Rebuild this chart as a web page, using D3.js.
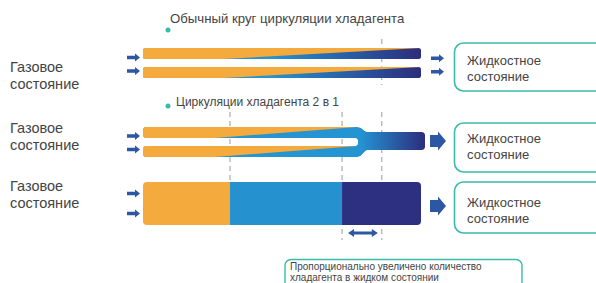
<!DOCTYPE html>
<html>
<head>
<meta charset="utf-8">
<script src="https://cdn.jsdelivr.net/npm/d3@7"></script>
<style>
  body { margin: 0; background: #fff; }
  svg text { font-family: "Liberation Sans", Arial, sans-serif; fill: #444; }
</style>
</head>
<body>
<div id="chart"></div>
<script>
// values
var sectionTitles = ["Обычный круг циркуляции хладагента", "Циркуляции хладагента 2 в 1"];
var gasLabel = ["Газовое", "состояние"];
var liquidLabel = ["Жидкостное", "состояние"];
var noteLines = ["Пропорционально увеличено количество", "хладагента в жидком состоянии"];
// fraction of tube length where liquid starts / fills the tube
var wedgeStart = [0.288, 0.259];
var wedgeEnd = [1.0, 0.77];
// solid bar: gas / mixed / liquid
var barStops = [0, 0.313, 0.716, 1.0];
var barColors = ["#f5aa3e", "#2592cf", "#2d2f80"];
var dashStops = [0.313, 0.716, 0.859];

var width = 596, height = 283;
var svg = d3.select("#chart").append("svg").attr("width", width).attr("height", height);
var x = d3.scaleLinear().domain([0, 1]).range([143, 421]);

var orange = "#f5aa3e", teal = "#38bba9", arrowBlue = "#2d56a3";

var defs = svg.append("defs");
function grad(id, x1, x2) {
    var g = defs.append("linearGradient").attr("id", id)
        .attr("gradientUnits", "userSpaceOnUse")
        .attr("x1", x1).attr("x2", x2).attr("y1", 0).attr("y2", 0);
    g.append("stop").attr("offset", 0).attr("stop-color", "#2594d3");
    g.append("stop").attr("offset", 1).attr("stop-color", "#2c2d7c");
}
grad("g1", x(0.45), x(1));
grad("g2", x(0.78), 425);

// dashed guide lines
var dashes = [
    [dashStops[2], 39, 85], [dashStops[0], 112, 181],
    [dashStops[1], 112, 240], [dashStops[2], 112, 240]
];
svg.append("g").selectAll("line").data(dashes).enter().append("line")
    .attr("x1", function(d){ return x(d[0]); }).attr("x2", function(d){ return x(d[0]); })
    .attr("y1", function(d){ return d[1]; }).attr("y2", function(d){ return d[2]; })
    .attr("stroke", "#9a9a9a").attr("stroke-width", 1).attr("stroke-dasharray", "5,4");

// titles with teal dots
var titleY = [23, 106], dotY = [30, 106];
svg.append("g").selectAll("circle").data(sectionTitles).enter().append("circle")
    .attr("cx", 168).attr("cy", function(d, i){ return dotY[i]; }).attr("r", 2.5).attr("fill", teal);
svg.append("g").selectAll("text").data(sectionTitles).enter().append("text")
    .attr("x", function(d, i){ return i == 0 ? 170 : 176; })
    .attr("y", function(d, i){ return titleY[i]; })
    .attr("font-size", function(d, i){ return i == 0 ? "13.2px" : "12px"; })
    .text(function(d){ return d; });

// gas labels
var gasY = [72, 133, 191];
gasY.forEach(function(y0) {
    svg.append("g").selectAll("text").data(gasLabel).enter().append("text")
        .attr("x", 10).attr("y", function(d, i){ return y0 + i * 17; })
        .attr("font-size", "14.5px").text(function(d){ return d; });
});

// liquid boxes
var boxes = [[43, 91, 65], [123, 172, 143], [182, 233, 207]];
boxes.forEach(function(b) {
    svg.append("rect").attr("x", 454.5).attr("y", b[0]).attr("width", 150).attr("height", b[1] - b[0])
        .attr("rx", 9).attr("fill", "none").attr("stroke", teal).attr("stroke-width", 1.6);
    svg.append("g").selectAll("text").data(liquidLabel).enter().append("text")
        .attr("x", 467).attr("y", function(d, i){ return b[2] + i * 16; })
        .attr("font-size", "13px").text(function(d){ return d; });
});

// note box
svg.append("rect").attr("x", 285).attr("y", 259.5).attr("width", 237).attr("height", 40)
    .attr("rx", 6).attr("fill", "none").attr("stroke", teal).attr("stroke-width", 1.4);
svg.append("g").selectAll("text").data(noteLines).enter().append("text")
    .attr("x", 290).attr("y", function(d, i){ return 270 + i * 11; })
    .attr("font-size", "10px").text(function(d){ return d; });

// small arrows
function smallArrow(x0, y0) {
    var p = d3.path();
    p.moveTo(x0, y0 - 1.8); p.lineTo(x0 + 8, y0 - 1.8); p.lineTo(x0 + 8, y0 - 4);
    p.lineTo(x0 + 13, y0); p.lineTo(x0 + 8, y0 + 4); p.lineTo(x0 + 8, y0 + 1.8);
    p.lineTo(x0, y0 + 1.8); p.closePath();
    svg.append("path").attr("d", p.toString()).attr("fill", arrowBlue);
}
[[127, 57.5], [127, 71], [127, 136], [127, 149.5], [127, 193.5], [127, 213.5], [431, 58.3], [431, 71.7]]
    .forEach(function(a){ smallArrow(a[0], a[1]); });

function bigArrow(x0, y0) {
    var p = d3.path();
    p.moveTo(x0, y0 - 6); p.lineTo(x0 + 8, y0 - 6); p.lineTo(x0 + 8, y0 - 9.5);
    p.lineTo(x0 + 16, y0); p.lineTo(x0 + 8, y0 + 9.5); p.lineTo(x0 + 8, y0 + 6);
    p.lineTo(x0, y0 + 6); p.closePath();
    svg.append("path").attr("d", p.toString()).attr("fill", arrowBlue);
}
bigArrow(430, 141);
bigArrow(430, 206);

// section 1: two plain tubes
[[48, 59], [67, 78]].forEach(function(t, i) {
    var id = "c1_" + i;
    defs.append("clipPath").attr("id", id).append("rect")
        .attr("x", x(0)).attr("y", t[0]).attr("width", x(1) - x(0)).attr("height", t[1] - t[0]).attr("rx", 2.5);
    var g = svg.append("g").attr("clip-path", "url(#" + id + ")");
    g.append("rect").attr("x", x(0)).attr("y", t[0]).attr("width", x(1) - x(0)).attr("height", t[1] - t[0])
        .attr("fill", "url(#g1)");
    g.append("polygon").attr("fill", orange).attr("points", [
        [x(0), t[0]], [x(wedgeEnd[0]), t[0]], [x(wedgeStart[0]), t[1]], [x(0), t[1]]
    ].join(" "));
});

// section 2: tubes merging into one
var x0 = x(0), xm = x(wedgeEnd[1]);
var fork = d3.path();
fork.moveTo(x0 + 3, 127);
fork.lineTo(xm, 127);
fork.bezierCurveTo(xm + 6, 127, xm + 6, 132, xm + 12, 132);
fork.lineTo(422, 132);
fork.quadraticCurveTo(425, 132, 425, 135);
fork.lineTo(425, 147);
fork.quadraticCurveTo(425, 150, 422, 150);
fork.lineTo(xm + 12, 150);
fork.bezierCurveTo(xm + 6, 150, xm + 6, 157, xm, 157);
fork.lineTo(x0 + 3, 157);
fork.quadraticCurveTo(x0, 157, x0, 154);
fork.lineTo(x0, 149);
fork.quadraticCurveTo(x0, 146, x0 + 3, 146);
fork.lineTo(xm - 3, 146);
fork.arc(xm - 3, 142, 4, Math.PI / 2, -Math.PI / 2, true);
fork.lineTo(x0 + 3, 138);
fork.quadraticCurveTo(x0, 138, x0, 135);
fork.lineTo(x0, 130);
fork.quadraticCurveTo(x0, 127, x0 + 3, 127);
fork.closePath();

defs.append("clipPath").attr("id", "c2").append("path").attr("d", fork.toString());
var g2 = svg.append("g").attr("clip-path", "url(#c2)");
g2.append("path").attr("d", fork.toString()).attr("fill", "url(#g2)");
[[127, 138], [146, 157]].forEach(function(t) {
    g2.append("polygon").attr("fill", orange).attr("points", [
        [x0, t[0]], [xm, t[0]], [x(wedgeStart[1]), t[1]], [x0, t[1]]
    ].join(" "));
});

// section 3: solid bar
defs.append("clipPath").attr("id", "c3").append("rect")
    .attr("x", x(0)).attr("y", 182).attr("width", x(1) - x(0)).attr("height", 43).attr("rx", 4);
svg.append("g").attr("clip-path", "url(#c3)").selectAll("rect").data(barColors).enter().append("rect")
    .attr("x", function(d, i){ return x(barStops[i]); })
    .attr("width", function(d, i){ return x(barStops[i + 1]) - x(barStops[i]); })
    .attr("y", 182).attr("height", 43).attr("fill", function(d){ return d; });

// double arrow under liquid growth
var da = d3.path(), a1 = x(dashStops[1]) + 6, a2 = x(dashStops[2]) - 4, ay = 233;
da.moveTo(a1, ay); da.lineTo(a1 + 6, ay - 4); da.lineTo(a1 + 6, ay - 1.5);
da.lineTo(a2 - 6, ay - 1.5); da.lineTo(a2 - 6, ay - 4); da.lineTo(a2, ay);
da.lineTo(a2 - 6, ay + 4); da.lineTo(a2 - 6, ay + 1.5); da.lineTo(a1 + 6, ay + 1.5);
da.lineTo(a1 + 6, ay + 4); da.closePath();
svg.append("path").attr("d", da.toString()).attr("fill", arrowBlue);
</script>
</body>
</html>
